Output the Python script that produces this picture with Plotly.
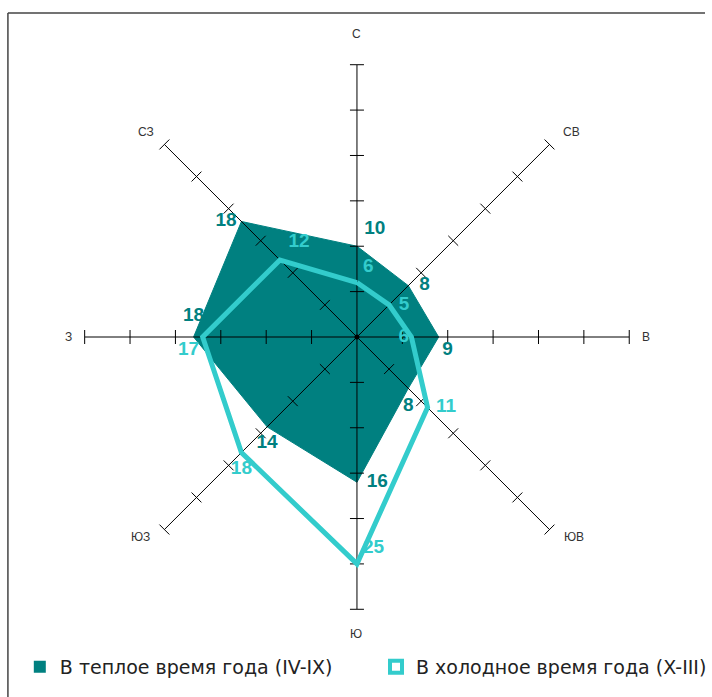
import plotly.graph_objects as go

directions = ["С", "СВ", "В", "ЮВ", "Ю", "ЮЗ", "З", "СЗ"]
bearings = [0, 45, 90, 135, 180, 225, 270, 315]
warm = [10, 8, 9, 8, 16, 14, 18, 18]
cold = [6, 5, 6, 11, 25, 18, 17, 12]
radial_ticks = [5, 10, 15, 20, 25, 30]
r_max = 30

warm_name = "В теплое время года (IV-IX)"
cold_name = "В холодное время года (X-III)"

WARM_C = "#008080"
COLD_C = "#33CCCC"
FONT = "Liberation Sans, Arial, sans-serif"

warm_pos = ["top right", "middle right", "bottom right", "bottom center",
            "middle right", "bottom center", "top center", "middle left"]
warm_pad = [10, 16, 4, 12, 14, 10, 16, 6]
cold_pos = ["top right", "middle right", "middle left", "middle right",
            "top right", "bottom center", "bottom left", "top right"]
cold_pad = [8, 14, 2, 12, 8, 10, 4, 12]

fig = go.Figure()

# warm filled polygon
fig.add_trace(go.Scatterpolar(
    r=warm + [warm[0]], theta=directions + [directions[0]],
    mode="lines", fill="toself", fillcolor=WARM_C,
    line=dict(color=WARM_C, width=1), showlegend=False, hoverinfo="skip"))

# spokes
sr, st = [], []
for d in directions:
    sr += [0, r_max, None]
    st += [d, d, d]
fig.add_trace(go.Scatterpolar(r=sr, theta=st, mode="lines",
                              line=dict(color="black", width=1),
                              showlegend=False, hoverinfo="skip", connectgaps=False))

# tick marks
tr, tt, ta = [], [], []
for d, b in zip(directions, bearings):
    for t in radial_ticks:
        tr.append(t); tt.append(d); ta.append(b)
fig.add_trace(go.Scatterpolar(r=tr, theta=tt, mode="markers",
                              marker=dict(symbol="line-ew", size=10, angle=ta,
                                          line=dict(color="black", width=1)),
                              showlegend=False, hoverinfo="skip"))
# center dot
fig.add_trace(go.Scatterpolar(r=[0], theta=[directions[0]], mode="markers",
                              marker=dict(symbol="circle", size=5, color="black"),
                              showlegend=False, hoverinfo="skip"))

# cold line
fig.add_trace(go.Scatterpolar(
    r=cold + [cold[0]], theta=directions + [directions[0]],
    mode="lines", line=dict(color=COLD_C, width=5),
    showlegend=False, hoverinfo="skip"))

# labels (invisible markers set the label distance)
fig.add_trace(go.Scatterpolar(
    r=warm, theta=directions, mode="markers+text", text=[str(v) for v in warm],
    textposition=warm_pos,
    marker=dict(size=warm_pad, color="rgba(0,0,0,0)", opacity=0,
                line=dict(width=0, color="rgba(0,0,0,0)")),
    textfont=dict(family=FONT, size=19, color=WARM_C, weight="bold"),
    showlegend=False, hoverinfo="skip"))
fig.add_trace(go.Scatterpolar(
    r=cold, theta=directions, mode="markers+text", text=[str(v) for v in cold],
    textposition=cold_pos,
    marker=dict(size=cold_pad, color="rgba(0,0,0,0)", opacity=0,
                line=dict(width=0, color="rgba(0,0,0,0)")),
    textfont=dict(family=FONT, size=19, color=COLD_C, weight="bold"),
    showlegend=False, hoverinfo="skip"))

# legend entries (one legend each, so they sit side by side)
fig.add_trace(go.Scatterpolar(r=[None], theta=[directions[0]], mode="markers",
                              name=warm_name, legend="legend",
                              marker=dict(symbol="square", size=12, color=WARM_C)))
fig.add_trace(go.Scatterpolar(r=[None], theta=[directions[0]], mode="markers",
                              name=cold_name, legend="legend2",
                              marker=dict(symbol="square", size=12, color="white",
                                          line=dict(color=COLD_C, width=4))))

W, H = 712, 697
cx, cy, R = 360.5, 337, 275

# direction-name positions (pixel centres of the labels)
dir_label_px = [(360, 34), (577, 132), (652, 337), (580, 537),
                (360, 634), (142, 537), (69, 337), (147, 132)]
annotations = [dict(x=px / W, y=1 - py / H, xref="paper", yref="paper",
                    text=d, showarrow=False, xanchor="center", yanchor="middle",
                    font=dict(family=FONT, size=12, color="#333"))
               for d, (px, py) in zip(directions, dir_label_px)]

legend_font = dict(family="DejaVu Sans, sans-serif", size=19, color="#222")
fig.update_layout(
    width=W, height=H,
    margin=dict(l=0, r=0, t=0, b=0),
    paper_bgcolor="white",
    font=dict(family=FONT, color="#222"),
    polar=dict(
        domain=dict(x=[(cx - R) / W, (cx + R) / W],
                    y=[(H - cy - R) / H, (H - cy + R) / H]),
        bgcolor="white",
        angularaxis=dict(type="category", categoryarray=directions,
                         rotation=90, direction="clockwise",
                         showgrid=False, showline=False, ticks="",
                         showticklabels=False),
        radialaxis=dict(range=[0, r_max], visible=False),
    ),
    annotations=annotations,
    legend=dict(orientation="h", x=20 / W, xanchor="left", y=(H - 667) / H,
                yanchor="middle", font=legend_font, bgcolor="rgba(0,0,0,0)"),
    legend2=dict(orientation="h", x=380 / W, xanchor="left", y=(H - 667) / H,
                 yanchor="middle", font=legend_font, bgcolor="rgba(0,0,0,0)"),
    shapes=[
        dict(type="line", xref="paper", yref="paper",
             x0=8 / W, x1=1.0, y0=1 - 13 / H, y1=1 - 13 / H,
             line=dict(color="#444", width=1.5)),
        dict(type="line", xref="paper", yref="paper",
             x0=8 / W, x1=8 / W, y0=0, y1=1 - 13 / H,
             line=dict(color="#444", width=1.5)),
    ],
)

fig.write_html("out.html", config={"displayModeBar": False},
               post_script="document.body.style.margin='0';")
